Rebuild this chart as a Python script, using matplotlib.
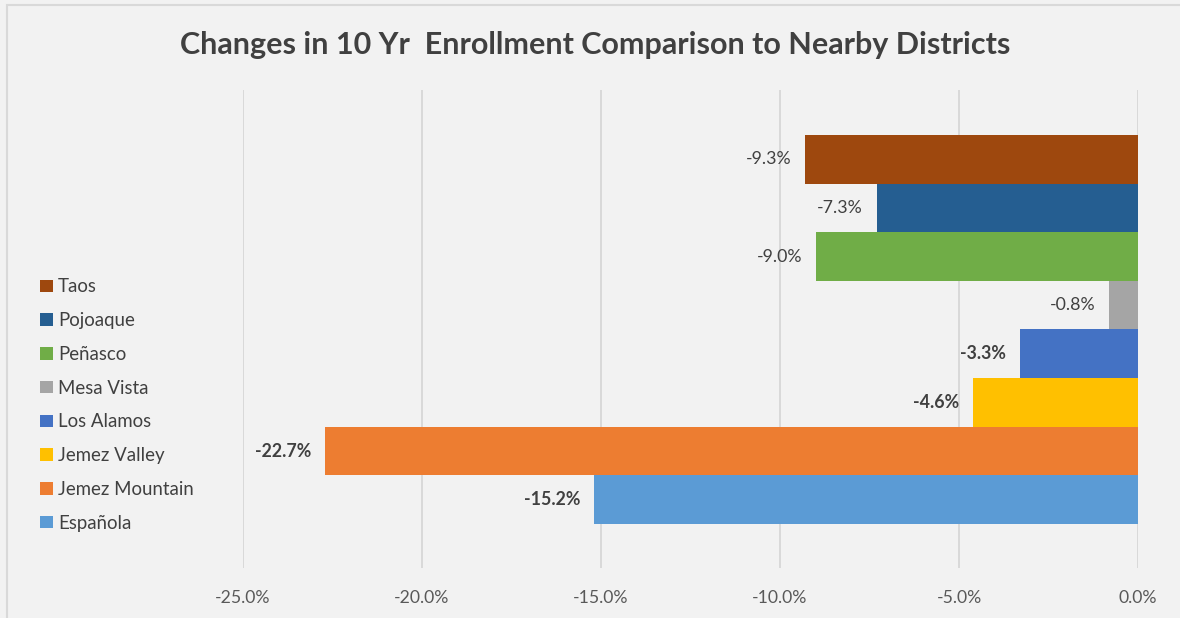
import matplotlib
matplotlib.use("Agg")
import matplotlib.pyplot as plt
from matplotlib.patches import Rectangle
from matplotlib.ticker import FuncFormatter

# ---- data ----
districts = ["Taos", "Pojoaque", "Peñasco", "Mesa Vista", "Los Alamos",
             "Jemez Valley", "Jemez Mountain", "Española"]
changes = [-9.3, -7.3, -9.0, -0.8, -3.3, -4.6, -22.7, -15.2]   # percent
x_ticks = [-25, -20, -15, -10, -5, 0]
title = "Changes in 10 Yr  Enrollment Comparison to Nearby Districts"

# ---- styles ----
colors = ["#9E480E", "#255E91", "#70AD47", "#A5A5A5", "#4472C4",
          "#FFC000", "#ED7D31", "#5B9BD5"]
label_weights = ["normal", "normal", "normal", "normal", "bold",
                 "bold", "bold", "bold"]

FONT = "Lato"
plt.rcParams["font.family"] = [FONT, "DejaVu Sans"]

W, H = 1180, 618
fig = plt.figure(figsize=(W / 100, H / 100), dpi=100)
fig.patch.set_facecolor("#F2F2F2")

# outer chart border (cropped at right/bottom)
fig.patches.append(Rectangle((7 / W, -0.05), 1.2, (H - 5) / H + 0.05,
                             transform=fig.transFigure, fill=False,
                             edgecolor="#D9D9D9", linewidth=1.5))

ax = fig.add_axes([243 / W, (H - 568) / H, 895 / W, 478 / H])
ax.set_facecolor("#F2F2F2")

n = len(districts)
for i, (name, val, col, wt) in enumerate(zip(districts, changes, colors, label_weights)):
    ypos = n - 1 - i
    bars = ax.barh(ypos, val, height=1.0, color=col, label=name, zorder=3)
    ax.bar_label(bars, labels=[f"{val:.1f}%"], padding=10, fontsize=12.8,
                 color="#404040", fontweight=wt)

ax.set_xlim(-25, 0)
ax.set_ylim(-1.405, 8.425)
ax.set_xticks(x_ticks)
ax.xaxis.set_major_formatter(FuncFormatter(lambda v, p: f"{v:.1f}%"))
ax.set_yticks([])
ax.tick_params(axis="x", length=0, pad=16, labelsize=12.7, labelcolor="#595959")
ax.grid(axis="x", color="#D9D9D9", linewidth=1.4, zorder=0)
for s in ax.spines.values():
    s.set_visible(False)

fig.text(595 / W, 1 - 45 / H, title, ha="center", va="center",
         fontsize=22, fontweight="bold", color="#404040")

handles, labels = ax.get_legend_handles_labels()
fig.legend(handles, labels, loc="upper left",
           bbox_to_anchor=(33 / W, 1 - 271 / H), frameon=False,
           fontsize=13.4, labelcolor="#404040",
           handlelength=0.65, handleheight=0.65, handletextpad=0.3,
           labelspacing=0.9, borderaxespad=0)

fig.savefig("out.png", dpi=100, facecolor=fig.get_facecolor())
